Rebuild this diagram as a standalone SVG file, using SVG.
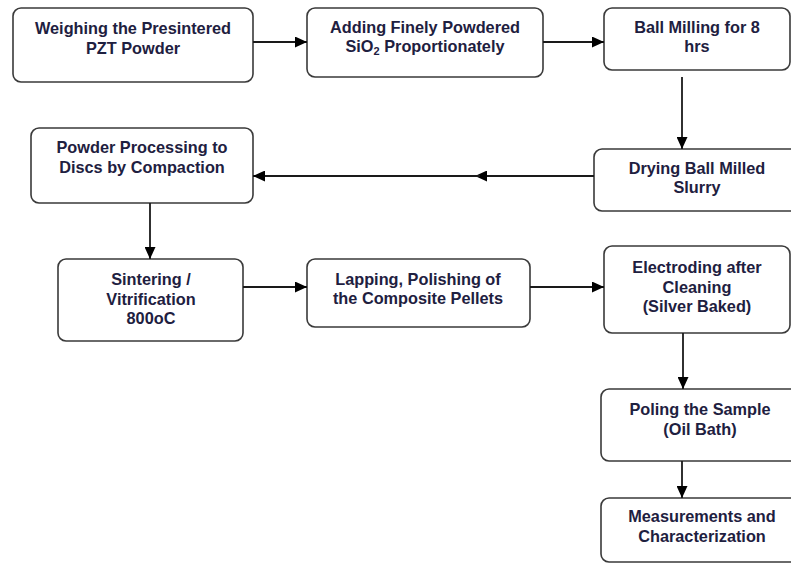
<svg xmlns="http://www.w3.org/2000/svg" width="791" height="563" viewBox="0 0 791 563">
<style>
  .box { fill: #ffffff; stroke: #3a3a3a; stroke-width: 1.6; }
  .lbl { font-family: "Liberation Sans", Arial, sans-serif; font-size: 16.3px; font-weight: bold; fill: #1e2040; text-anchor: middle; }
  .sub { font-size: 11px; }
  .edge { stroke: #1a1a1a; stroke-width: 1.8; fill: none; }
  .head { fill: #000000; }
</style>
<defs>
  <marker id="arr" viewBox="0 0 12 11" refX="12" refY="5.5" markerWidth="12" markerHeight="11" markerUnits="userSpaceOnUse" orient="auto">
    <path d="M0,0 L12,5.5 L0,11 z" class="head"/>
  </marker>
</defs>
<rect width="791" height="563" fill="#ffffff"/>

<g id="n1">
  <rect class="box" x="13" y="8" width="240" height="74" rx="8"/>
  <text class="lbl" x="133" y="33.5">Weighing the Presintered</text>
  <text class="lbl" x="133" y="54">PZT Powder</text>
</g>
<g id="n2">
  <rect class="box" x="307" y="8" width="236" height="69" rx="8"/>
  <text class="lbl" x="425" y="33">Adding Finely Powdered</text>
  <text class="lbl" x="425" y="52">SiO<tspan class="sub" dy="3">2</tspan><tspan dy="-3"> Proportionately</tspan></text>
</g>
<g id="n3">
  <rect class="box" x="604" y="8" width="186" height="62" rx="8"/>
  <text class="lbl" x="697" y="33">Ball Milling for 8</text>
  <text class="lbl" x="697" y="52">hrs</text>
</g>
<g id="n4">
  <rect class="box" x="594" y="149" width="210" height="62" rx="8"/>
  <text class="lbl" x="697" y="174">Drying Ball Milled</text>
  <text class="lbl" x="697" y="193">Slurry</text>
</g>
<g id="n5">
  <rect class="box" x="31" y="128" width="222" height="75" rx="8"/>
  <text class="lbl" x="142" y="153">Powder Processing to</text>
  <text class="lbl" x="142" y="173">Discs by Compaction</text>
</g>
<g id="n6">
  <rect class="box" x="58" y="259" width="185" height="82" rx="8"/>
  <text class="lbl" x="151" y="285">Sintering /</text>
  <text class="lbl" x="151" y="304.5">Vitrification</text>
  <text class="lbl" x="151" y="324">800oC</text>
</g>
<g id="n7">
  <rect class="box" x="307" y="259" width="223" height="68" rx="8"/>
  <text class="lbl" x="418" y="285">Lapping, Polishing of</text>
  <text class="lbl" x="418" y="303.5">the Composite Pellets</text>
</g>
<g id="n8">
  <rect class="box" x="604" y="246" width="186" height="87" rx="8"/>
  <text class="lbl" x="697" y="273">Electroding after</text>
  <text class="lbl" x="697" y="293">Cleaning</text>
  <text class="lbl" x="697" y="312">(Silver Baked)</text>
</g>
<g id="n9">
  <rect class="box" x="601" y="389" width="205" height="72" rx="8"/>
  <text class="lbl" x="700" y="415">Poling the Sample</text>
  <text class="lbl" x="700" y="435">(Oil Bath)</text>
</g>
<g id="n10">
  <rect class="box" x="601" y="498" width="205" height="64" rx="8"/>
  <text class="lbl" x="702" y="522">Measurements and</text>
  <text class="lbl" x="702" y="542">Characterization</text>
</g>

<g id="connectors">
  <line class="edge" x1="253" y1="42" x2="307" y2="42" marker-end="url(#arr)"/>
  <line class="edge" x1="543" y1="42" x2="604" y2="42" marker-end="url(#arr)"/>
  <line class="edge" x1="682" y1="77" x2="682" y2="149" marker-end="url(#arr)"/>
  <line class="edge" x1="594" y1="176" x2="475" y2="176" marker-end="url(#arr)"/>
  <line class="edge" x1="480" y1="176" x2="253" y2="176" marker-end="url(#arr)"/>
  <line class="edge" x1="150" y1="203" x2="150" y2="259" marker-end="url(#arr)"/>
  <line class="edge" x1="243" y1="287" x2="307" y2="287" marker-end="url(#arr)"/>
  <line class="edge" x1="530" y1="287" x2="604" y2="287" marker-end="url(#arr)"/>
  <line class="edge" x1="683" y1="333" x2="683" y2="389" marker-end="url(#arr)"/>
  <line class="edge" x1="682" y1="461" x2="682" y2="498" marker-end="url(#arr)"/>
</g>
</svg>
